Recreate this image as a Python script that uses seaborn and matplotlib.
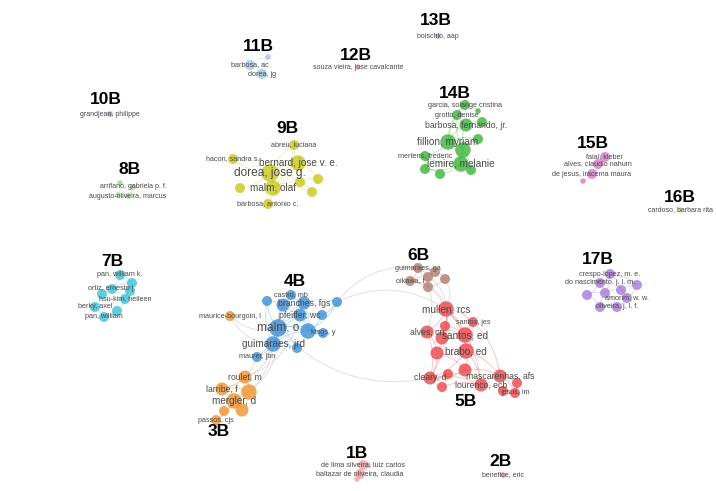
import numpy as np
import pandas as pd
import matplotlib
matplotlib.use("Agg")
import matplotlib.pyplot as plt
from matplotlib.path import Path
from matplotlib.patches import PathPatch
import seaborn as sns

# ---------------------------------------------------
# Network data (layout coordinates)
# ---------------------------------------------------
node_id = [
    "boischio",
    "barbosa_ac", "dorea_jg", "c11a",
    "souza",
    "grandjean",
    "arrifano", "augusto", "c8a", "c8b",
    "abreu", "hacon", "bernard", "dorea_jose", "malm_olaf", "barbosa_antonio", "c9a", "c9b", "c9c", "c9d",
    "garcia", "grotto", "barbosa_fernando", "fillion", "mertens", "lemire", "c14a", "c14b", "c14c", "c14d", "c14e", "c14f", "c14g",
    "faial", "alves_claudio", "de_jesus", "c15a",
    "cardoso",
    "pan_wk", "ortiz", "hsu_kim", "berky", "pan_w", "c7a", "c7b", "c7c", "c7d",
    "crespo", "do_nascimento", "amorim", "oliveira", "c17a", "c17b", "c17c", "c17d", "c17e",
    "castro", "branches", "pfeiffer", "malm_o", "kings", "guimaraes_jrd", "maurer", "c4a", "c4b", "c4c", "c4d", "c4e", "c4f",
    "maurice", "roulet", "larrib", "mergler", "passos", "c3a", "c3b", "c3c",
    "guimaraes_ga", "oikawa", "c6a", "c6b", "c6c", "c6d",
    "mullen", "santos_jes", "alves_cn", "santos_ed", "brabo", "cleary", "mascarenhas", "lourenco", "jesus_im",
    "c5a", "c5b", "c5c", "c5d", "c5e", "c5f", "c5g", "c5h",
    "de_lima", "baltazar", "c1a", "c1b",
    "benefice",
]
node_cl = (["13B"] + ["11B"] * 3 + ["12B"] + ["10B"] + ["8B"] * 4 + ["9B"] * 10 + ["14B"] * 13
           + ["15B"] * 4 + ["16B"] + ["7B"] * 9 + ["17B"] * 9 + ["4B"] * 13 + ["3B"] * 8
           + ["6B"] * 6 + ["5B"] * 17 + ["1B"] * 4 + ["2B"])
node_x = [438,
          250, 262, 268,
          358,
          110,
          133, 128, 120, 118,
          294, 233, 298, 270, 273, 268, 300, 318, 240, 312,
          465, 457, 466, 448, 425, 461, 478, 482, 478, 463, 425, 440, 471,
          605, 598, 592, 583,
          680,
          120, 112, 125, 95, 104, 132, 130, 102, 117,
          610, 600, 627, 617, 637, 587, 605, 621, 600,
          291, 304, 300, 278, 323, 273, 257, 267, 283, 337, 322, 308, 297,
          230, 245, 222, 234, 216, 249, 242, 224,
          418, 410, 435, 428, 445, 428,
          446, 473, 427, 465, 466, 430, 500, 481, 515,
          445, 442, 437, 465, 448, 517, 442, 503,
          363, 360, 368, 357,
          503]
node_y = [36,
          65, 74, 57,
          67,
          114,
          187, 196, 183, 195,
          145, 159, 163, 173, 188, 204, 182, 179, 188, 192,
          105, 115, 125, 142, 156, 164, 111, 122, 139, 150, 169, 174, 170,
          157, 164, 174, 181,
          210,
          275, 289, 299, 307, 317, 283, 291, 294, 311,
          274, 283, 298, 307, 285, 295, 293, 290, 307,
          295, 303, 315, 328, 333, 344, 357, 301, 305, 302, 315, 331, 348,
          316, 377, 389, 401, 420, 392, 410, 411,
          268, 281, 272, 277, 279, 287,
          309, 322, 332, 335, 351, 378, 376, 385, 393,
          326, 338, 353, 370, 374, 383, 387, 391,
          465, 474, 465, 479,
          475]
node_w = [1,
          2, 2, 1,
          1,
          1,
          1, 1, 1, 1,
          2, 2, 4, 5, 4, 2, 2, 2, 2, 2,
          2, 2, 3, 4, 2, 4, 1, 2, 2, 4, 2, 2, 2,
          2, 2, 2, 1,
          1,
          2, 2, 2, 2, 2, 2, 2, 2, 2,
          2, 2, 2, 2, 2, 2, 2, 2, 2,
          2, 3, 3, 5, 2, 4, 2, 2, 3, 2, 2, 4, 2,
          2, 3, 3, 4, 2, 4, 3, 2,
          2, 2, 2, 2, 2, 2,
          4, 2, 3, 4, 4, 3, 3, 3, 2,
          2, 3, 3, 3, 2, 2, 2, 2,
          2, 2, 1, 1,
          1]

# Node labels shown on the map
label_id = ["boischio", "barbosa_ac", "dorea_jg", "souza", "grandjean", "arrifano", "augusto",
            "abreu", "hacon", "bernard", "dorea_jose", "malm_olaf", "barbosa_antonio",
            "garcia", "grotto", "barbosa_fernando", "fillion", "mertens", "lemire",
            "faial", "alves_claudio", "de_jesus", "cardoso",
            "pan_wk", "ortiz", "hsu_kim", "berky", "pan_w",
            "crespo", "do_nascimento", "amorim", "oliveira",
            "castro", "branches", "pfeiffer", "malm_o", "kings", "guimaraes_jrd", "maurer",
            "maurice", "roulet", "larrib", "mergler", "passos",
            "guimaraes_ga", "oikawa",
            "mullen", "santos_jes", "alves_cn", "santos_ed", "brabo", "cleary", "mascarenhas", "lourenco", "jesus_im",
            "de_lima", "baltazar", "benefice"]
label_text = ["boischio, aap", "barbosa, ac", "dorea, jg", "souza vieira, jose cavalcante", "grandjean, philippe",
              "arrifano, gabriela p. f.", "augusto-oliveira, marcus",
              "abreu, luciana", "hacon, sandra s.", "bernard, jose v. e.", "dorea, jose g.", "malm, olaf",
              "barbosa, antonio c.",
              "garcia, solange cristina", "grotto, denise", "barbosa, fernando, jr.", "fillion, myriam",
              "mertens, frederic", "lemire, melanie",
              "faial, kleber", "alves, claudio nahum", "de jesus, iracema maura", "cardoso, barbara rita",
              "pan, william k.", "ortiz, ernesto j.", "hsu-kim, heileen", "berky, axel", "pan, william",
              "crespo-lopez, m. e.", "do nascimento, j. l. m.", "amorim, w. w.", "oliveira, j. l. f.",
              "castro, mb", "branches, fgs", "pfeiffer, wc", "malm, o", "kings, y", "guimaraes, jrd", "maurer, jbn",
              "maurice-bourgoin, l", "roulet, m", "larribe, f", "mergler, d", "passos, cjs",
              "guimaraes, ga", "oikawa, t",
              "mullen, rcs", "santos, jes", "alves, cn", "santos, ed", "brabo, ed", "cleary, d",
              "mascarenhas, afs", "lourenco, ecb", "jesus, im",
              "de lima silveira, luiz carlos", "baltazar de oliveira, claudia", "benefice, eric"]

# Cluster names and where their tags sit
cluster_names = ["1B", "2B", "3B", "4B", "5B", "6B", "7B", "8B", "9B",
                 "10B", "11B", "12B", "13B", "14B", "15B", "16B", "17B"]
cluster_tag_x = [357, 500, 219, 295, 466, 418, 112, 130, 287, 106, 258, 356, 436, 455, 593, 680, 598]
cluster_tag_y = [453, 461, 432, 281, 401, 256, 262, 170, 128, 99, 46, 55, 20, 93, 143, 198, 260]
cluster_colors = ["#f2a3ab", "#e98c8c", "#f0922e", "#3d8ed6", "#e8474b", "#b07c70", "#3cc3d6", "#9bd888",
                  "#c9c81c", "#b48ed8", "#9ec5ea", "#e8a0b6", "#86b6e6", "#3cb53c", "#d97bcb", "#d9d88a",
                  "#a77bd8"]

edges = [
    ("barbosa_ac", "dorea_jg"), ("barbosa_ac", "c11a"), ("dorea_jg", "c11a"),
    ("arrifano", "augusto"), ("arrifano", "c8a"), ("c8a", "c8b"), ("augusto", "c8b"),
    ("dorea_jose", "bernard"), ("dorea_jose", "malm_olaf"), ("dorea_jose", "hacon"), ("dorea_jose", "abreu"),
    ("dorea_jose", "c9c"), ("bernard", "malm_olaf"), ("bernard", "abreu"), ("bernard", "c9a"),
    ("bernard", "c9b"), ("malm_olaf", "c9a"), ("malm_olaf", "c9d"), ("malm_olaf", "barbosa_antonio"),
    ("c9a", "c9b"), ("c9a", "c9d"), ("dorea_jose", "c9a"), ("barbosa_antonio", "dorea_jose"),
    ("abreu", "malm_olaf"),
    ("fillion", "lemire"), ("fillion", "c14d"), ("lemire", "c14d"), ("fillion", "barbosa_fernando"),
    ("fillion", "grotto"), ("fillion", "garcia"), ("fillion", "mertens"), ("lemire", "mertens"),
    ("lemire", "c14e"), ("lemire", "c14f"), ("lemire", "c14g"), ("c14d", "c14c"),
    ("c14d", "barbosa_fernando"), ("garcia", "c14a"), ("grotto", "garcia"), ("barbosa_fernando", "c14b"),
    ("c14d", "c14g"), ("fillion", "c14c"), ("mertens", "c14e"), ("c14e", "c14f"), ("c14d", "grotto"),
    ("faial", "alves_claudio"), ("alves_claudio", "de_jesus"), ("de_jesus", "c15a"), ("faial", "de_jesus"),
    ("pan_wk", "c7a"), ("pan_wk", "ortiz"), ("c7a", "c7b"), ("ortiz", "hsu_kim"), ("hsu_kim", "c7b"),
    ("c7c", "ortiz"), ("c7c", "berky"), ("berky", "pan_w"), ("hsu_kim", "c7d"), ("c7d", "pan_w"),
    ("pan_wk", "c7b"), ("ortiz", "c7a"),
    ("crespo", "do_nascimento"), ("crespo", "c17d"), ("crespo", "c17a"), ("do_nascimento", "c17c"),
    ("do_nascimento", "c17b"), ("c17c", "c17d"), ("c17d", "amorim"), ("c17c", "oliveira"),
    ("c17b", "c17e"), ("c17e", "oliveira"), ("amorim", "oliveira"), ("c17a", "amorim"),
    ("c17b", "c17c"), ("c17d", "c17a"), ("crespo", "c17c"), ("c17e", "c17c"),
    ("malm_o", "pfeiffer"), ("malm_o", "branches"), ("malm_o", "castro"), ("malm_o", "guimaraes_jrd"),
    ("malm_o", "c4e"), ("malm_o", "c4a"), ("malm_o", "c4b"), ("malm_o", "kings"), ("malm_o", "maurer"),
    ("malm_o", "c4f"), ("guimaraes_jrd", "c4e"), ("guimaraes_jrd", "pfeiffer"), ("guimaraes_jrd", "maurer"),
    ("guimaraes_jrd", "c4f"), ("pfeiffer", "branches"), ("pfeiffer", "c4d"), ("pfeiffer", "c4e"),
    ("branches", "c4c"), ("branches", "castro"), ("c4d", "c4e"), ("c4c", "c4d"), ("c4e", "kings"),
    ("castro", "c4b"), ("c4a", "c4b"), ("branches", "c4e"), ("c4c", "c4e"), ("guimaraes_jrd", "c4a"),
    ("roulet", "c3a"), ("roulet", "larrib"), ("larrib", "mergler"), ("mergler", "c3a"), ("mergler", "c3b"),
    ("c3a", "c3b"), ("mergler", "passos"), ("mergler", "c3c"), ("larrib", "c3a"), ("c3c", "passos"),
    ("roulet", "mergler"),
    ("guimaraes_jrd", "roulet"), ("malm_o", "c3a"), ("guimaraes_jrd", "mergler"), ("maurer", "larrib"),
    ("malm_o", "maurice"), ("guimaraes_jrd", "maurice"), ("pfeiffer", "roulet"),
    ("guimaraes_ga", "c6a"), ("guimaraes_ga", "c6b"), ("guimaraes_ga", "oikawa"), ("c6a", "c6c"),
    ("c6b", "c6d"), ("oikawa", "c6d"), ("c6c", "c6d"), ("oikawa", "c6b"),
    ("c6c", "mullen"), ("c6d", "mullen"), ("oikawa", "mullen"), ("c6b", "mullen"), ("guimaraes_ga", "alves_cn"),
    ("mullen", "santos_jes"), ("mullen", "c5a"), ("mullen", "alves_cn"), ("mullen", "santos_ed"),
    ("mullen", "brabo"), ("mullen", "c5b"), ("mullen", "cleary"), ("mullen", "lourenco"),
    ("c5a", "santos_ed"), ("c5a", "c5b"), ("alves_cn", "santos_ed"), ("alves_cn", "c5c"),
    ("alves_cn", "cleary"), ("santos_ed", "brabo"), ("santos_ed", "santos_jes"), ("santos_ed", "c5b"),
    ("brabo", "c5c"), ("brabo", "c5d"), ("brabo", "mascarenhas"), ("brabo", "lourenco"), ("brabo", "cleary"),
    ("c5b", "c5c"), ("c5c", "cleary"), ("c5c", "c5d"), ("c5d", "c5e"), ("c5d", "lourenco"),
    ("c5d", "mascarenhas"), ("c5d", "cleary"), ("c5e", "cleary"), ("c5e", "c5g"), ("c5g", "lourenco"),
    ("cleary", "lourenco"), ("lourenco", "mascarenhas"), ("lourenco", "c5h"), ("mascarenhas", "c5f"),
    ("mascarenhas", "jesus_im"), ("c5f", "jesus_im"), ("c5h", "jesus_im"), ("santos_jes", "brabo"),
    ("santos_jes", "mascarenhas"), ("c5g", "cleary"),
    ("c4c", "guimaraes_ga"), ("cleary", "malm_o"), ("c4c", "mullen"),
    ("de_lima", "baltazar"), ("de_lima", "c1a"), ("baltazar", "c1b"), ("c1a", "c1b"),
]

# ---------------------------------------------------
# Build tables
# ---------------------------------------------------
nodes = pd.DataFrame({"id": node_id, "cluster": node_cl, "x": node_x, "y": node_y, "w": node_w})
pos = nodes.set_index("id")
palette = dict(zip(cluster_names, cluster_colors))

# ---------------------------------------------------
# Plot
# ---------------------------------------------------
sns.set_style("white")
fig = plt.figure(figsize=(7.16, 4.91), dpi=100)
ax = fig.add_axes([0, 0, 1, 1])

# curved links (quadratic bezier, VOSviewer style)
for a, b in edges:
    x0, y0 = pos.loc[a, "x"], pos.loc[a, "y"]
    x1, y1 = pos.loc[b, "x"], pos.loc[b, "y"]
    mx, my = (x0 + x1) / 2, (y0 + y1) / 2
    ca, cb = pos.loc[a, "cluster"], pos.loc[b, "cluster"]
    bend = 0.18 if ca == cb else 0.28
    cx, cy = mx + (y1 - y0) * bend, my - (x1 - x0) * bend
    if ca == cb:
        col, alpha = palette[ca], 0.3
    else:
        col, alpha = "#bdbdbd", 0.45
    path = Path([(x0, y0), (cx, cy), (x1, y1)], [Path.MOVETO, Path.CURVE3, Path.CURVE3])
    ax.add_patch(PathPatch(path, facecolor="none", edgecolor=col, lw=0.7, alpha=alpha, zorder=1))

sns.scatterplot(data=nodes, x="x", y="y", hue="cluster", size="w", sizes=(16, 160),
                palette=palette, legend=False, edgecolor="none", alpha=0.8, ax=ax, zorder=3)

# node labels
label_size = {1: 5.0, 2: 5.2, 3: 6.2, 4: 7.2, 5: 8.6}
for nid, txt in zip(label_id, label_text):
    r = pos.loc[nid]
    ax.text(r["x"], r["y"], txt, ha="center", va="center", fontsize=label_size[r["w"]],
            color="#4a4a4a", family="Liberation Sans", zorder=4)

# cluster tags
for name, tx, ty in zip(cluster_names, cluster_tag_x, cluster_tag_y):
    ax.text(tx, ty, name, ha="center", va="center", fontsize=12.5, fontweight="bold",
            color="black", family="Liberation Sans", zorder=5)

ax.set_xlim(0, 716)
ax.set_ylim(491, 0)
ax.axis("off")

plt.savefig("out.png", dpi=100, facecolor="white")
